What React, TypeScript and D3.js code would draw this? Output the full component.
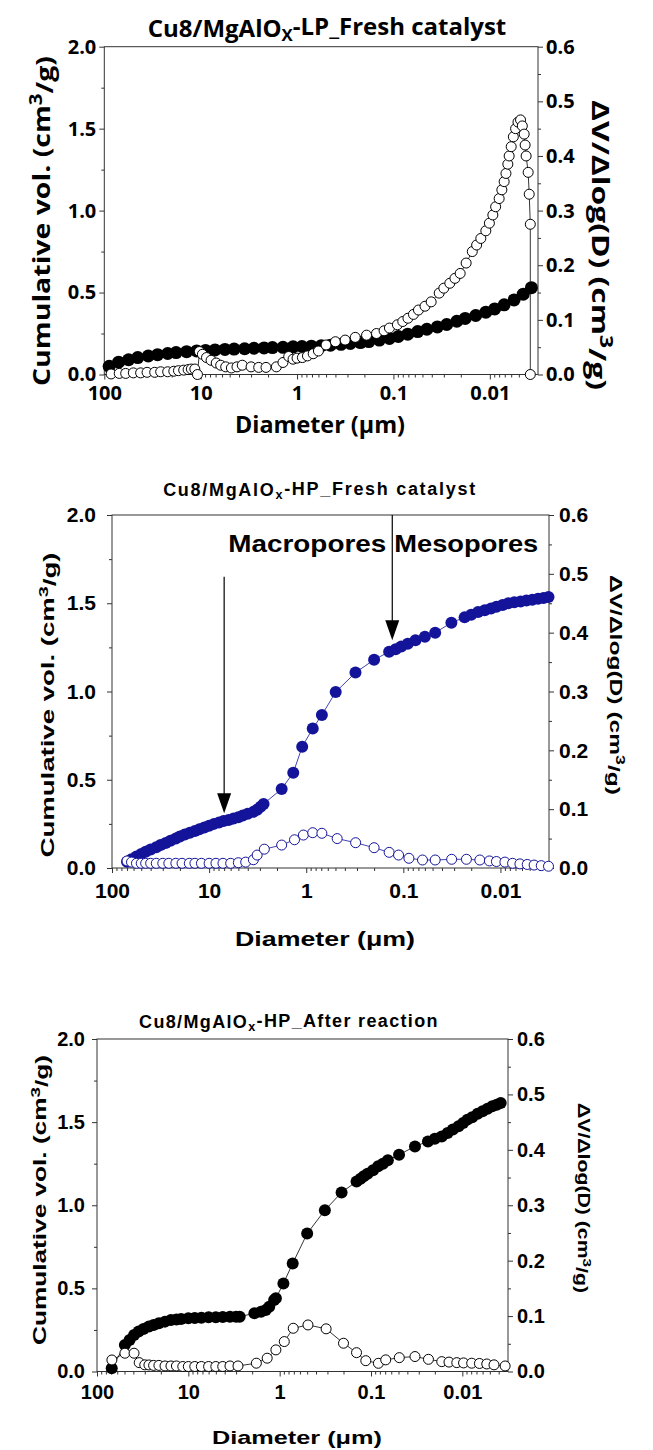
import React, { useRef, useEffect } from 'react';
import * as d3 from 'd3';

type Pt = [number, number]; // [diameter (µm), value]

// ---------- data ----------
// Cu8/MgAlOx-LP fresh: cumulative volume (cm3/g)
const lpCumulative: Pt[] = [
  [89, 0.05], [71, 0.075], [56, 0.09], [45, 0.103], [35, 0.113], [28, 0.121], [22, 0.128], [18, 0.134],
  [14, 0.139], [11, 0.144], [8.9, 0.147], [7.1, 0.15], [5.6, 0.153], [4.5, 0.155], [3.5, 0.157], [2.8, 0.16],
  [2.2, 0.162], [1.8, 0.164], [1.4, 0.166], [1.1, 0.169], [0.89, 0.171], [0.71, 0.173], [0.56, 0.176],
  [0.45, 0.179], [0.35, 0.184], [0.28, 0.189], [0.22, 0.195], [0.18, 0.201], [0.14, 0.21], [0.11, 0.22],
  [0.089, 0.232], [0.071, 0.246], [0.056, 0.262], [0.045, 0.276], [0.035, 0.29], [0.028, 0.305],
  [0.022, 0.325], [0.018, 0.342], [0.014, 0.36], [0.011, 0.38], [0.0089, 0.4], [0.0071, 0.425],
  [0.0056, 0.455], [0.0045, 0.49], [0.0037, 0.53],
];
// Cu8/MgAlOx-LP fresh: dV/dlog(D) (cm3/g)
const lpDistribution: Pt[] = [
  [85, 0.001], [70, 0.002], [60, 0.002], [50, 0.003], [42, 0.003], [36, 0.004], [30, 0.004], [26, 0.005],
  [22, 0.005], [19, 0.006], [17, 0.007], [15, 0.008], [13.5, 0.009], [12.5, 0.01], [11.5, 0.01], [10.8, 0.0],
  [10.3, 0.042], [9.6, 0.037], [8.7, 0.031], [7.8, 0.026], [6.9, 0.021], [6.2, 0.017], [5.5, 0.014],
  [4.8, 0.012], [4.2, 0.014], [3.7, 0.017], [3.0, 0.014], [2.5, 0.013], [2.1, 0.013], [1.64, 0.014],
  [1.4, 0.022], [1.22, 0.033], [1.1, 0.028], [1.0, 0.03], [0.88, 0.031], [0.78, 0.034], [0.68, 0.038],
  [0.6, 0.043], [0.5, 0.054], [0.4, 0.06], [0.317, 0.063], [0.249, 0.068], [0.19, 0.072], [0.15, 0.075],
  [0.125, 0.08], [0.11, 0.085], [0.091, 0.091], [0.08, 0.097], [0.0707, 0.103], [0.062, 0.11],
  [0.055, 0.118], [0.047, 0.125], [0.0406, 0.133], [0.0335, 0.149], [0.03, 0.158], [0.026, 0.167],
  [0.023, 0.176], [0.0203, 0.185], [0.0176, 0.204], [0.0152, 0.225], [0.0137, 0.237], [0.0124, 0.249],
  [0.011, 0.263], [0.0101, 0.277], [0.0093, 0.292], [0.0087, 0.307], [0.008, 0.322], [0.0075, 0.338],
  [0.0071, 0.353], [0.0068, 0.368], [0.0065, 0.385], [0.0063, 0.4], [0.006, 0.417], [0.0057, 0.435],
  [0.0054, 0.45], [0.0051, 0.462], [0.0048, 0.466], [0.0046, 0.455], [0.0044, 0.44], [0.0043, 0.42],
  [0.0042, 0.4], [0.004, 0.37], [0.0039, 0.33], [0.0038, 0.275], [0.0038, 0.0],
];
// Cu8/MgAlOx-HP fresh
const hpFreshCumulative: Pt[] = [
  [70, 0.036], [63, 0.05], [56, 0.065], [50, 0.08], [45, 0.092], [40, 0.105], [35, 0.118], [31.6, 0.13],
  [28, 0.142], [25, 0.155], [22, 0.167], [20, 0.178], [17.8, 0.19], [15.8, 0.2], [14, 0.21], [12.6, 0.22],
  [11.2, 0.23], [10, 0.24], [8.9, 0.25], [7.9, 0.258], [7.1, 0.266], [6.3, 0.272], [5.6, 0.28], [5, 0.288],
  [4.5, 0.297], [4, 0.307], [3.5, 0.318], [3.2, 0.33], [2.95, 0.347], [2.75, 0.363], [1.79, 0.448],
  [1.36, 0.54], [1.1, 0.687], [0.857, 0.79], [0.69, 0.867], [0.497, 0.997], [0.311, 1.107], [0.2, 1.18],
  [0.14, 1.225], [0.12, 1.24], [0.105, 1.255], [0.09, 1.27], [0.075, 1.29], [0.06, 1.31], [0.047, 1.333],
  [0.032, 1.39], [0.0234, 1.42], [0.02, 1.435], [0.017, 1.45], [0.0145, 1.46], [0.0125, 1.47], [0.011, 1.48],
  [0.0095, 1.49], [0.0083, 1.5], [0.0072, 1.505], [0.0062, 1.51], [0.0054, 1.515], [0.0047, 1.52],
  [0.0041, 1.525], [0.0036, 1.53], [0.0032, 1.535],
];
const hpFreshDistribution: Pt[] = [
  [70, 0.012], [63, 0.01], [56, 0.008], [50, 0.008], [45, 0.008], [40, 0.008], [35, 0.008], [30, 0.008],
  [26, 0.008], [22, 0.008], [19, 0.008], [16, 0.008], [14, 0.008], [12, 0.008], [10, 0.008], [8.5, 0.008],
  [7.2, 0.008], [6, 0.008], [5, 0.009], [4.2, 0.01], [3.5, 0.014], [3.2, 0.022], [2.7, 0.032], [1.79, 0.039],
  [1.32, 0.048], [1.07, 0.056], [0.857, 0.06], [0.69, 0.059], [0.48, 0.05], [0.31, 0.043], [0.2, 0.0345],
  [0.14, 0.0266], [0.112, 0.022], [0.0876, 0.0165], [0.0635, 0.0136], [0.047, 0.0136], [0.0318, 0.0148],
  [0.0224, 0.0148], [0.0163, 0.0136], [0.013, 0.012], [0.011, 0.011], [0.009, 0.01], [0.0075, 0.008],
  [0.0063, 0.007], [0.0053, 0.006], [0.0045, 0.005], [0.0038, 0.004], [0.0032, 0.003],
];
// Cu8/MgAlOx-HP after reaction
const hpAfterCumulative: Pt[] = [
  [69, 0.02], [49.5, 0.16], [44, 0.19], [39.3, 0.22], [35, 0.24], [31, 0.255], [27, 0.27], [24, 0.28],
  [21, 0.29], [18, 0.3], [15.5, 0.31], [13.5, 0.313], [12, 0.316], [10, 0.32], [8.5, 0.322], [7.2, 0.324],
  [6, 0.326], [5, 0.327], [4.2, 0.328], [3.5, 0.329], [3.0, 0.33], [2.74, 0.33], [1.89, 0.35], [1.6, 0.36],
  [1.42, 0.37], [1.3, 0.39], [1.15, 0.43], [1.1, 0.44], [0.91, 0.53], [0.72, 0.65], [0.5, 0.83],
  [0.32, 0.97], [0.21, 1.077], [0.144, 1.143], [0.13, 1.16], [0.12, 1.175], [0.109, 1.19], [0.095, 1.21],
  [0.0835, 1.234], [0.074, 1.25], [0.0654, 1.27], [0.0493, 1.304], [0.033, 1.354], [0.0238, 1.384],
  [0.02, 1.4], [0.0168, 1.414], [0.0145, 1.435], [0.0127, 1.455], [0.011, 1.475], [0.0098, 1.495],
  [0.0088, 1.515], [0.0078, 1.53], [0.0068, 1.55], [0.006, 1.565], [0.0053, 1.58], [0.0047, 1.595],
  [0.0042, 1.605], [0.0038, 1.615],
];
const hpAfterDistribution: Pt[] = [
  [68.7, 0.0208], [49.5, 0.033], [39.3, 0.033], [34.5, 0.016], [30, 0.012], [27, 0.0118], [24, 0.011],
  [21, 0.011], [18, 0.01], [15.5, 0.01], [13.5, 0.01], [11.5, 0.009], [10, 0.009], [8.5, 0.009], [7.2, 0.009],
  [6, 0.009], [5, 0.009], [4.2, 0.009], [3.5, 0.01], [2.86, 0.01], [1.8, 0.015], [1.37, 0.024], [1.1, 0.039],
  [0.89, 0.054], [0.71, 0.078], [0.49, 0.084], [0.31, 0.077], [0.2, 0.051], [0.144, 0.034], [0.114, 0.0195],
  [0.083, 0.0148], [0.069, 0.021], [0.049, 0.025], [0.033, 0.027], [0.0235, 0.022], [0.0168, 0.0178],
  [0.014, 0.017], [0.0115, 0.016], [0.0097, 0.0155], [0.0079, 0.015], [0.0065, 0.0145], [0.0054, 0.0136],
  [0.0045, 0.012], [0.0034, 0.01],
];

const xTickValues = [100, 10, 1, 0.1, 0.01];
const xTickLabels = ['100', '10', '1', '0.1', '0.01'];
const leftTicks = [0, 0.5, 1, 1.5, 2];
const leftMinor = [0.25, 0.75, 1.25, 1.75];
const rightTicks = [0, 0.1, 0.2, 0.3, 0.4, 0.5, 0.6];
const rightMinor = [0.05, 0.15, 0.25, 0.35, 0.45, 0.55];

// arrows in the HP fresh panel: [diameter, top value], [diameter, tip value]
const poreArrows: Pt[][] = [
  [[7, 1.65], [7, 0.31]],
  [[0.13, 2.0], [0.13, 1.29]],
];

const xMinor: number[] = [];
[-3, -2, -1, 0, 1].forEach(k => {
  for (let m = 2; m <= 9; m++) {
    const v = m * Math.pow(10, k);
    if (v < 100 && v > Math.pow(10, -2.5)) xMinor.push(v);
  }
});

const SANS1 = '"Open Sans", "Liberation Sans", sans-serif';
const SANS2 = '"Liberation Sans", Arial, sans-serif';

interface Cfg {
  box: { left: number; right: number; top: number; bottom: number };
  cumulative: Pt[];
  distribution: Pt[];
  color: string;
  font: string;
  rFill: number;
  rOpen: number;
  tick: { size: number; xPad: number; lPad: number; rPad: number };
  title: { parts: [string, string, string]; x: number; y: number; size: number; spacing: number };
  yLabel: { x: number; y: number; size: number; len: number };
  y2Label: { x: number; y: number; size: number; len: number };
  xLabel: { x: number; y: number; size: number; len: number };
  arrows?: boolean;
}

const panels: Cfg[] = [
  {
    box: { left: 104.3, right: 538, top: 46.7, bottom: 374.5 },
    cumulative: lpCumulative, distribution: lpDistribution, color: '#000', font: SANS1, rFill: 6.5, rOpen: 5,
    tick: { size: 20, xPad: 6, lPad: 3, rPad: 3 },
    title: { parts: ['Cu8/MgAlO', 'X', '-LP_Fresh catalyst'], x: 327, y: 37, size: 24, spacing: 0 },
    yLabel: { x: 50, y: 221, size: 24, len: 330 },
    y2Label: { x: 592, y: 245, size: 24, len: 290 },
    xLabel: { x: 320, y: 433, size: 24, len: 170 },
  },
  {
    box: { left: 112, right: 549, top: 515, bottom: 868 },
    cumulative: hpFreshCumulative, distribution: hpFreshDistribution, color: '#14149a', font: SANS2, rFill: 6, rOpen: 5,
    tick: { size: 21, xPad: 10, lPad: 11, rPad: 5 },
    title: { parts: ['Cu8/MgAlO', 'x', '-HP_Fresh catalyst'], x: 320, y: 496, size: 18, spacing: 1.7 },
    yLabel: { x: 54, y: 705, size: 19, len: 305 },
    y2Label: { x: 610, y: 685, size: 17, len: 220 },
    xLabel: { x: 325, y: 946, size: 20, len: 180 },
    arrows: true,
  },
  {
    box: { left: 97, right: 508, top: 1039, bottom: 1371.5 },
    cumulative: hpAfterCumulative, distribution: hpAfterDistribution, color: '#000', font: SANS2, rFill: 6, rOpen: 5,
    tick: { size: 20, xPad: 8, lPad: 7, rPad: 4 },
    title: { parts: ['Cu8/MgAlO', 'x', '-HP_After reaction'], x: 289, y: 1028, size: 18, spacing: 1.35 },
    yLabel: { x: 46, y: 1200, size: 18, len: 290 },
    y2Label: { x: 578, y: 1198, size: 16, len: 190 },
    xLabel: { x: 297, y: 1444, size: 19, len: 170 },
  },
];

const Panel = ({ cfg }: { cfg: Cfg }) => {
  const axRef = useRef<SVGGElement>(null);
  const { box } = cfg;

  const x = d3.scaleLog().domain([100, Math.pow(10, -2.5)]).range([box.left, box.right]);
  const yL = d3.scaleLinear().domain([0, 2]).range([box.bottom, box.top]);
  const yR = d3.scaleLinear().domain([0, 0.6]).range([box.bottom, box.top]);

  useEffect(() => {
    const g = d3.select(axRef.current);
    g.selectAll('*').remove();

    const bottom = g.append('g').attr('transform', `translate(0,${box.bottom})`);
    bottom.append('g').call(d3.axisBottom(x).tickValues(xMinor).tickFormat(() => '').tickSize(3).tickSizeOuter(0));
    bottom.append('g').call(
      d3.axisBottom(x).tickValues(xTickValues).tickFormat((_, i) => xTickLabels[i])
        .tickSize(5).tickSizeOuter(0).tickPadding(cfg.tick.xPad)
    );

    const left = g.append('g').attr('transform', `translate(${box.left},0)`);
    left.append('g').call(d3.axisLeft(yL).tickValues(leftMinor).tickFormat(() => '').tickSize(3).tickSizeOuter(0));
    left.append('g').call(
      d3.axisLeft(yL).tickValues(leftTicks).tickFormat(d3.format('.1f'))
        .tickSize(5).tickSizeOuter(0).tickPadding(cfg.tick.lPad)
    );

    const right = g.append('g').attr('transform', `translate(${box.right},0)`);
    right.append('g').call(d3.axisRight(yR).tickValues(rightMinor).tickFormat(() => '').tickSize(3).tickSizeOuter(0));
    right.append('g').call(
      d3.axisRight(yR).tickValues(rightTicks).tickFormat(d3.format('.1f'))
        .tickSize(5).tickSizeOuter(0).tickPadding(cfg.tick.rPad)
    );

    // the minor-tick axes carry empty labels; drop them
    g.selectAll('text').filter(function () { return (this as SVGTextElement).textContent === ''; }).remove();
    g.selectAll('.domain').remove();
    g.selectAll('line').attr('stroke', '#333').attr('stroke-width', 1);
    g.selectAll('g').attr('font-family', null).attr('font-size', null);
    g.selectAll('text')
      .attr('font-family', cfg.font)
      .attr('font-size', cfg.tick.size)
      .attr('font-weight', 'bold')
      .attr('fill', '#000');
  }, [cfg]);

  const lineL = d3.line<Pt>().x(d => x(d[0])).y(d => yL(d[1]));
  const lineR = d3.line<Pt>().x(d => x(d[0])).y(d => yR(d[1]));
  const { title, yLabel, y2Label, xLabel } = cfg;
  const txt = { fontFamily: cfg.font, fontWeight: 'bold' as const, fill: '#000' };

  return (
    <g>
      <rect x={box.left} y={box.top} width={box.right - box.left} height={box.bottom - box.top}
        fill="none" stroke="#333" strokeWidth={1} />
      <g ref={axRef} />

      <path d={lineL(cfg.cumulative) || ''} fill="none" stroke={cfg.color} strokeWidth={0.8} />
      {cfg.cumulative.map((p, i) => (
        <circle key={'c' + i} cx={x(p[0])} cy={yL(p[1])} r={cfg.rFill} fill={cfg.color} />
      ))}
      <path d={lineR(cfg.distribution) || ''} fill="none" stroke={cfg.color} strokeWidth={0.8} />
      {cfg.distribution.map((p, i) => (
        <circle key={'o' + i} cx={x(p[0])} cy={yR(p[1])} r={cfg.rOpen} fill="#fff" stroke={cfg.color} strokeWidth={1} />
      ))}

      {cfg.arrows && poreArrows.map((a, i) => {
        const ax = x(a[0][0]);
        const y0 = yL(a[0][1]);
        const y1 = yL(a[1][1]);
        return (
          <g key={'a' + i}>
            <line x1={ax} x2={ax} y1={y0} y2={y1 - 16} stroke="#000" strokeWidth={1.2} />
            <polygon points={`${ax - 7},${y1 - 20} ${ax + 7},${y1 - 20} ${ax},${y1}`} fill="#000" />
          </g>
        );
      })}
      {cfg.arrows && (
        <>
          <text {...txt} x={x(poreArrows[1][0][0]) - 6} y={yL(1.79)} fontSize={24} textAnchor="end"
            textLength={158} lengthAdjust="spacingAndGlyphs">Macropores</text>
          <text {...txt} x={x(poreArrows[1][0][0]) + 2} y={yL(1.79)} fontSize={24}
            textLength={144} lengthAdjust="spacingAndGlyphs">Mesopores</text>
        </>
      )}

      <text {...txt} x={title.x} y={title.y} fontSize={title.size} textAnchor="middle" letterSpacing={title.spacing}>
        {title.parts[0]}
        <tspan dy="0.25em" fontSize="70%">{title.parts[1]}</tspan>
        <tspan dy="-0.25em">{title.parts[2]}</tspan>
      </text>

      <text {...txt} transform={`translate(${yLabel.x},${yLabel.y}) rotate(-90)`} fontSize={yLabel.size}
        textAnchor="middle" textLength={yLabel.len} lengthAdjust="spacingAndGlyphs">
        Cumulative vol. (cm<tspan dy="-0.45em" fontSize="72%">3</tspan><tspan dy="0.45em">/g)</tspan>
      </text>

      <text {...txt} transform={`translate(${y2Label.x},${y2Label.y}) rotate(90)`} fontSize={y2Label.size}
        textAnchor="middle" textLength={y2Label.len} lengthAdjust="spacingAndGlyphs">
        ΔV/Δlog(D) (cm<tspan dy="-0.45em" fontSize="72%">3</tspan><tspan dy="0.45em">/g)</tspan>
      </text>

      <text {...txt} x={xLabel.x} y={xLabel.y} fontSize={xLabel.size} textAnchor="middle"
        textLength={xLabel.len} lengthAdjust="spacingAndGlyphs">Diameter (μm)</text>
    </g>
  );
};

export default function App() {
  return (
    <svg width={653} height={1450} style={{ position: 'absolute', left: 0, top: 0, background: '#fff' }}>
      {panels.map((p, i) => <Panel key={i} cfg={p} />)}
    </svg>
  );
}
